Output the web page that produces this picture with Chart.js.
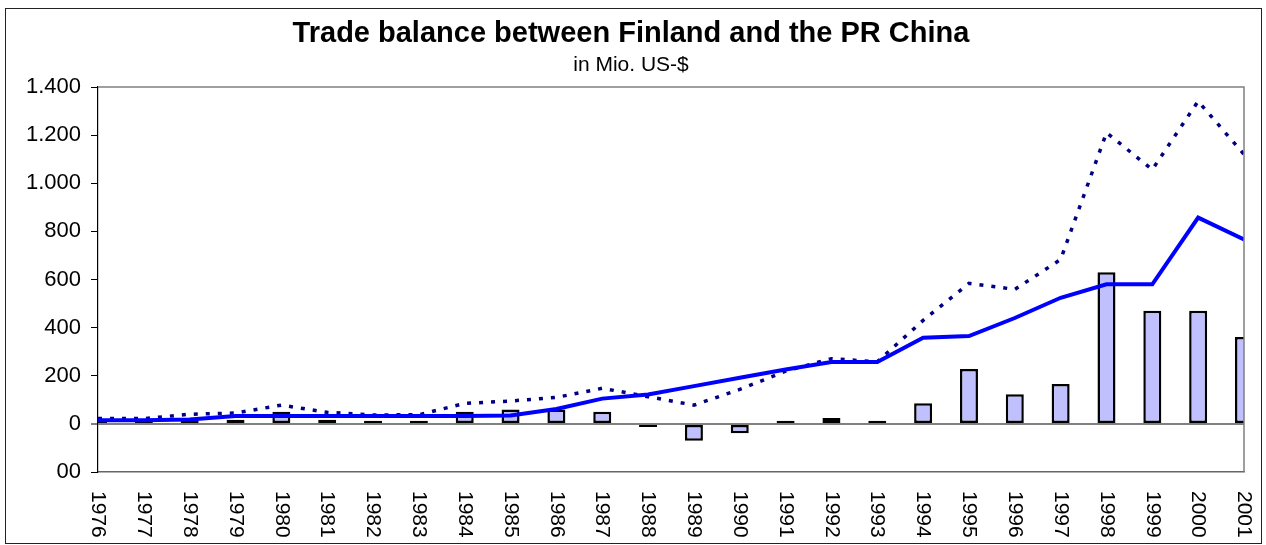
<!DOCTYPE html>
<html>
<head>
<meta charset="utf-8">
<title>Trade balance between Finland and the PR China</title>
<script src="https://cdn.jsdelivr.net/npm/chart.js@4.4.1/dist/chart.umd.min.js"></script>
<style>
  html, body { margin: 0; padding: 0; background: #fff; }
  #wrap { width: 1266px; height: 545px; }
</style>
</head>
<body>
<div id="wrap"><canvas id="chart" width="1266" height="545"></canvas></div>
<script>
// Data (Mio. US-$)
const years = ["1976", "1977", "1978", "1979", "1980", "1981", "1982", "1983", "1984", "1985",
  "1986", "1987", "1988", "1989", "1990", "1991", "1992", "1993", "1994", "1995",
  "1996", "1997", "1998", "1999", "2000", "2001"];
const balance = [20, 14, 22, 17, 50, 17, 13, 13, 50, 60,
  60, 50, -13, -70, -39, 13, 24, 13, 86, 228,
  123, 166, 630, 470, 470, 361];
const imports = [15, 15, 18, 33, 33, 33, 33, 33, 33, 35,
  62, 105, 122, 157, 192, 226, 257, 257, 358, 365,
  440, 524, 580, 580, 857, 766];
const exports = [22, 22, 40, 45, 78, 48, 37, 38, 85, 95,
  110, 148, 113, 78, 143, 219, 271, 258, 430, 584,
  559, 683, 1210, 1057, 1341, 1120];
const yTickValues = [-200, 0, 200, 400, 600, 800, 1000, 1200, 1400];
const yTickLabels = ["00", "0", "200", "400", "600", "800", "1.000", "1.200", "1.400"];

const FONT = '"Liberation Sans", Arial, sans-serif';

// weißer Hintergrund + Rahmen + Rahmen der Zeichenfläche
const rahmen = {
  id: "rahmen",
  beforeDraw(chart) {
    const c = chart.ctx;
    c.save();
    c.fillStyle = "#fff";
    c.fillRect(0, 0, chart.width, chart.height);
    c.strokeStyle = "#222";
    c.lineWidth = 1;
    c.strokeRect(5.5, 8.5, 1256, 535);
    c.restore();
  },
  afterDraw(chart) {
    const { left, right, top, bottom } = chart.chartArea;
    const c = chart.ctx;
    c.save();
    c.strokeStyle = "#808080";
    c.lineWidth = 1.5;
    c.beginPath();
    c.moveTo(left, top);
    c.lineTo(right, top);
    c.lineTo(right, bottom);
    c.stroke();

    // Jahreszahlen, im Uhrzeigersinn gedreht
    const xs = chart.scales.x;
    c.fillStyle = "#000";
    c.font = "21px " + FONT;
    c.textAlign = "left";
    c.textBaseline = "middle";
    years.forEach((y, i) => {
      c.save();
      c.translate(xs.getPixelForTick(i), bottom + 19);
      c.rotate(Math.PI / 2);
      c.fillText(y, 0, 0);
      c.restore();
    });
    c.restore();
  },
};

new Chart(document.getElementById("chart"), {
  type: "bar",
  data: {
    labels: years,
    datasets: [
      {
        type: "line",
        label: "Imports",
        data: imports,
        borderColor: "#0000FF",
        borderWidth: 4,
        pointRadius: 0,
        tension: 0,
        clip: 0,
        order: 0,
      },
      {
        type: "line",
        label: "Exports",
        data: exports,
        borderColor: "#000080",
        borderWidth: 3.5,
        borderDash: [4, 8],
        pointRadius: 0,
        tension: 0,
        clip: 0,
        order: 1,
      },
      {
        label: "Balance",
        data: balance,
        // fast leere Balken erscheinen nur als schwarzer Strich
        backgroundColor: (ctx) => (Math.abs(ctx.raw) < 15 ? "#000" : "#C0C0FF"),
        borderColor: "#000",
        borderWidth: 2.5,
        borderSkipped: false,
        inflateAmount: 0,
        barThickness: 18,
        clip: 0,
        order: 2,
      },
    ],
  },
  options: {
    responsive: false,
    animation: false,
    layout: { padding: { left: 18, right: 22, top: 8, bottom: 73 } },
    plugins: {
      legend: { display: false },
      tooltip: { enabled: false },
      title: {
        display: true,
        text: "Trade balance between Finland and the PR China",
        color: "#000",
        font: { family: FONT, size: 29, weight: "bold" },
        padding: { top: 9, bottom: 0 },
      },
      subtitle: {
        display: true,
        text: "in Mio. US-$",
        color: "#000",
        font: { family: FONT, size: 21 },
        padding: { top: 1, bottom: 9 },
      },
    },
    scales: {
      x: {
        offset: false,
        grid: { display: false, offset: false },
        ticks: { display: false },
        border: { display: true, color: "#666", width: 1.5 },
        afterFit: (s) => { s.height = 0; },
      },
      y: {
        min: -200,
        max: 1400,
        afterBuildTicks: (s) => { s.ticks = yTickValues.map((v) => ({ value: v })); },
        ticks: {
          color: "#000",
          padding: 10,
          font: { family: FONT, size: 22 },
          callback: (v) => yTickLabels[yTickValues.indexOf(v)],
        },
        grid: {
          color: (ctx) => (ctx.tick && ctx.tick.value === 0 ? "#808080" : "rgba(0,0,0,0)"),
          lineWidth: (ctx) => (ctx.tick && ctx.tick.value === 0 ? 2 : 1),
          tickColor: "#000",
          tickWidth: 1,
          tickLength: 7,
        },
        border: { display: true, color: "#000", width: 1.2 },
        afterFit: (s) => { s.width = 80; },
      },
    },
  },
  plugins: [rahmen],
});
</script>
</body>
</html>
